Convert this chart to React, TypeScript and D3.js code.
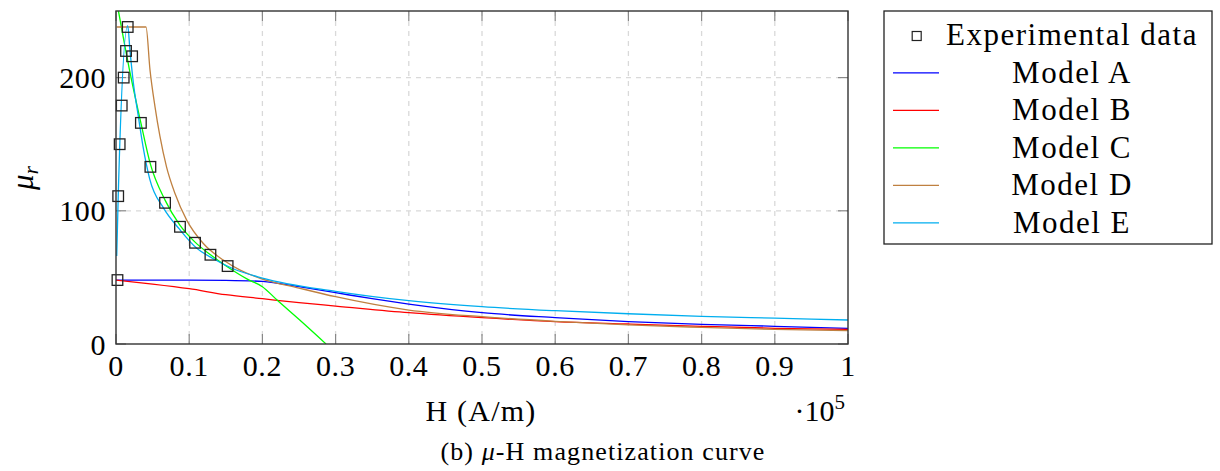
import React from "react";
import * as d3 from "d3";

const xTicks = [0, 0.1, 0.2, 0.3, 0.4, 0.5, 0.6, 0.7, 0.8, 0.9, 1];
const xTickLabels = ["0", "0.1", "0.2", "0.3", "0.4", "0.5", "0.6", "0.7", "0.8", "0.9", "1"];
const yTicks = [0, 100, 200];

const expH = [0.002, 0.003, 0.005, 0.0078, 0.0105, 0.0137, 0.016, 0.022, 0.034, 0.047, 0.067, 0.0874, 0.108, 0.129, 0.1525];
const expMu = [48, 111, 150, 179, 200, 220, 238, 216, 166, 133, 106, 88, 76, 67, 58.5];

const modelA: [number, number][] = [
  [0, 48], [0.1, 48], [0.15, 47.8], [0.2, 47], [0.25, 43], [0.3, 38.5], [0.35, 34], [0.4, 30],
  [0.5, 23.5], [0.6, 19.8], [0.7, 16.8], [0.8, 14.8], [0.9, 13.3], [1.0, 11.8],
];
const modelB: [number, number][] = [
  [0, 48], [0.05, 45], [0.1, 41.5], [0.15, 37], [0.2, 34], [0.25, 31], [0.3, 28.5], [0.4, 23.5],
  [0.5, 19.8], [0.6, 16.8], [0.7, 15], [0.8, 13.3], [0.9, 11.8], [1.0, 11],
];
const modelC: [number, number][] = [
  [0, 260], [0.003, 251], [0.018, 207], [0.034, 166], [0.047, 135], [0.067, 108], [0.087, 89.5],
  [0.108, 76.5], [0.129, 67], [0.152, 58], [0.18, 48.5], [0.2, 43], [0.22, 33], [0.251, 18], [0.287, 0],
];
const modelD: [number, number][] = [
  [0.001, 238], [0.041, 238], [0.0464, 206], [0.0533, 178], [0.06, 156], [0.069, 133], [0.0806, 113],
  [0.0966, 93], [0.119, 75.6], [0.1466, 63], [0.169, 55.6], [0.197, 49.3], [0.25, 42], [0.3, 35.5],
  [0.4, 25.5], [0.5, 20.5], [0.6, 17], [0.7, 14.3], [0.8, 12.5], [0.9, 11], [1.0, 10],
];
const modelE: [number, number][] = [
  [0.001, 66], [0.003, 110], [0.016, 239], [0.019, 221], [0.0237, 196], [0.0305, 171], [0.037, 148],
  [0.046, 124], [0.065, 102], [0.087, 86], [0.11, 72], [0.133, 64], [0.16, 56.5], [0.2, 49.5],
  [0.3, 39.5], [0.4, 32.5], [0.5, 28], [0.6, 25], [0.7, 22.7], [0.8, 20.8], [0.9, 19.4], [1.0, 18],
];

const seriesNames = ["Model A", "Model B", "Model C", "Model D", "Model E"];
const seriesColors = ["#0000ff", "#ff0000", "#00ff00", "#bf8040", "#00aeef"];
const seriesData = [modelA, modelB, modelC, modelD, modelE];

const FONT = "'Liberation Serif', 'DejaVu Serif', serif";

export default function App() {
  const left = 116, right = 848, top = 11, bottom = 344;
  const x = d3.scaleLinear().domain([0, 1]).range([left, right]);
  const y = d3.scaleLinear().domain([0, 250]).range([bottom, top]);
  const line = d3
    .line<[number, number]>()
    .x((d) => x(d[0]))
    .y((d) => y(d[1]))
    .curve(d3.curveMonotoneX);

  const legX = 884, legY = 11, legW = 328, legH = 233;
  const rowH = 37.5;
  const textCx = 1072;

  return (
    <svg
      width={1220}
      height={471}
      style={{ position: "absolute", left: 0, top: 0, background: "#fff" }}
      fontFamily={FONT}
    >
      <rect x={0} y={0} width={1220} height={471} fill="#fff" />
      <defs>
        <clipPath id="plotclip">
          <rect x={left} y={top} width={right - left} height={bottom - top} />
        </clipPath>
      </defs>
      {/* grid */}
      {xTicks.slice(1, -1).map((t) => (
        <line key={"gx" + t} x1={x(t)} x2={x(t)} y1={top} y2={bottom} stroke="#d9d9d9" strokeWidth={1.3} strokeDasharray="5,5" />
      ))}
      {yTicks.slice(1).map((t) => (
        <line key={"gy" + t} x1={left} x2={right} y1={y(t)} y2={y(t)} stroke="#d9d9d9" strokeWidth={1.3} strokeDasharray="5,5" />
      ))}
      {/* ticks */}
      {xTicks.map((t) => (
        <g key={"tx" + t}>
          <line x1={x(t)} x2={x(t)} y1={bottom} y2={bottom - 10} stroke="#888" strokeWidth={1.2} />
          <line x1={x(t)} x2={x(t)} y1={top} y2={top + 10} stroke="#888" strokeWidth={1.2} />
        </g>
      ))}
      {yTicks.map((t) => (
        <g key={"ty" + t}>
          <line x1={left} x2={left + 10} y1={y(t)} y2={y(t)} stroke="#888" strokeWidth={1.2} />
          <line x1={right} x2={right - 10} y1={y(t)} y2={y(t)} stroke="#888" strokeWidth={1.2} />
        </g>
      ))}
      {/* series */}
      <g clipPath="url(#plotclip)">
        {seriesData.map((d, i) => (
          <path key={seriesNames[i]} d={line(d) || ""} fill="none" stroke={seriesColors[i]} strokeWidth={1.3} />
        ))}
      </g>
      {expH.map((h, i) => (
        <rect
          key={"e" + i}
          x={x(h) - 5.3}
          y={y(expMu[i]) - 5.3}
          width={10.6}
          height={10.6}
          fill="none"
          stroke="#222"
          strokeWidth={1.3}
        />
      ))}
      {/* frame */}
      <rect x={left} y={top} width={right - left} height={bottom - top} fill="none" stroke="#333" strokeWidth={1.4} />
      {/* tick labels */}
      {xTicks.map((t, i) => (
        <text key={"lx" + t} x={x(t)} y={376} textAnchor="middle" fontSize={30} letterSpacing={0.6} fill="#000">
          {xTickLabels[i]}
        </text>
      ))}
      {yTicks.map((t) => (
        <text key={"ly" + t} x={106} y={y(t) + 10.5} textAnchor="end" fontSize={30} letterSpacing={0.6} fill="#000">
          {t}
        </text>
      ))}
      {/* axis labels */}
      <text x={481} y={421} textAnchor="middle" fontSize={30} letterSpacing={1.2} fill="#000">
        H (A/m)
      </text>
      <text x={845} y={421} textAnchor="end" fontSize={30} fill="#000">
        ·10<tspan fontSize={21} dy={-12}>5</tspan>
      </text>
      <text transform="translate(33,178) rotate(-90)" textAnchor="middle" fontSize={31} fill="#000">
        <tspan fontStyle="italic">μ</tspan>
        <tspan fontStyle="italic" fontSize={21} dy={5}>r</tspan>
      </text>
      <text x={603} y={460} textAnchor="middle" fontSize={26} letterSpacing={1.1} fill="#000">
        (b) <tspan fontStyle="italic">μ</tspan>-H magnetization curve
      </text>
      {/* legend */}
      <rect x={legX} y={legY} width={legW} height={legH} fill="#fff" stroke="#222" strokeWidth={1.3} />
      <rect x={916.7 - 4.5} y={36 - 4.5} width={9} height={9} fill="none" stroke="#222" strokeWidth={1.2} />
      <text x={textCx} y={45} textAnchor="middle" fontSize={31} letterSpacing={1.5} fill="#000">
        Experimental data
      </text>
      {seriesNames.map((n, i) => {
        const by = 45 + (i + 1) * rowH;
        return (
          <g key={"leg" + n}>
            <line x1={893} x2={939} y1={by - 9.6} y2={by - 9.6} stroke={seriesColors[i]} strokeWidth={1.3} />
            <text x={textCx} y={by} textAnchor="middle" fontSize={31} letterSpacing={1.5} fill="#000">
              {n}
            </text>
          </g>
        );
      })}
    </svg>
  );
}
